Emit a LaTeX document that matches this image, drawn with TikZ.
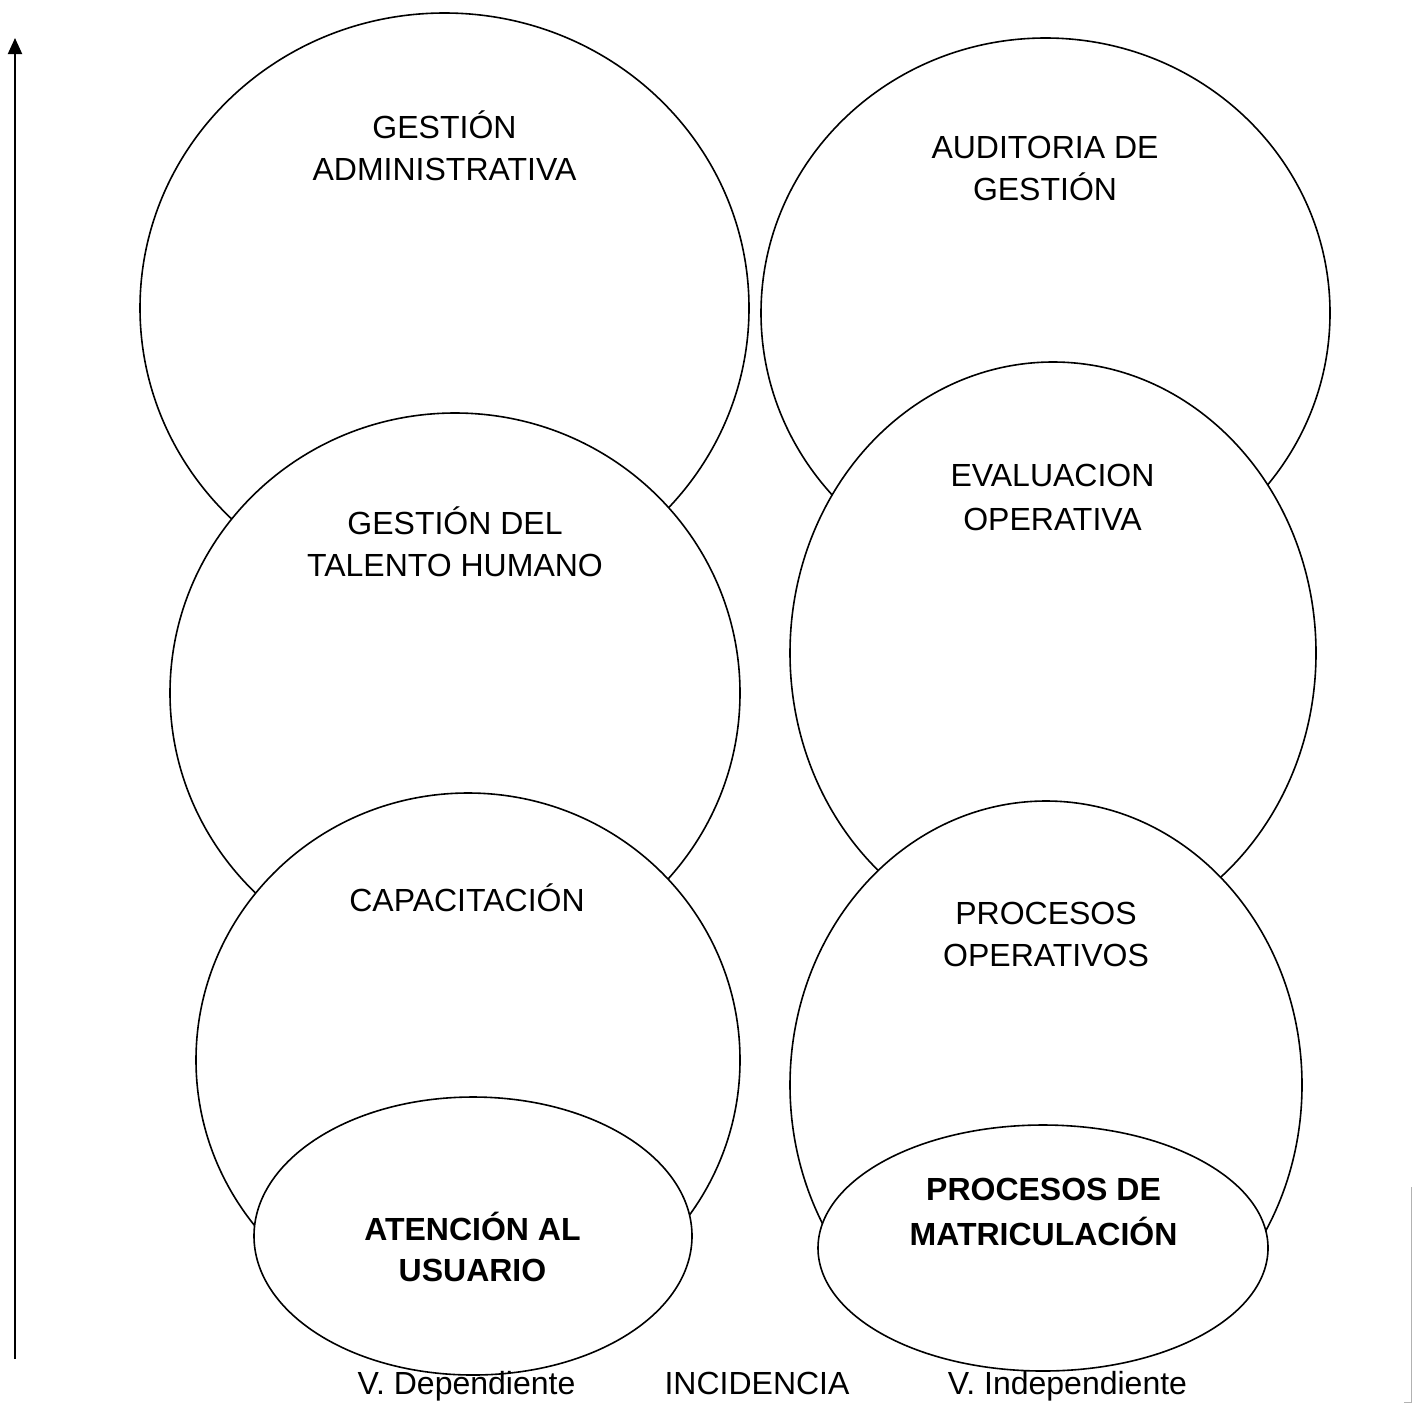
\documentclass[tikz,border=0pt]{standalone}
\usepackage{fontspec}
\setmainfont{Liberation Sans}
\usetikzlibrary{arrows.meta}
\begin{document}
\begin{tikzpicture}[x=0.5pt,y=-0.5pt,
  blob/.style={draw=black, fill=white, line width=0.8pt},
  lbl/.style={font=\fontsize{16}{21}\selectfont, align=center, inner sep=0pt},
  blbl/.style={lbl, font=\fontsize{16}{22.5}\selectfont\bfseries},
  axis/.style={line width=1pt, -{Triangle[length=8pt,width=7pt]}}]
\useasboundingbox (0,0) rectangle (1412,1403);
% left column
\draw[blob] (444.5,308) ellipse [x radius=152.25pt, y radius=147.5pt];
\draw[blob] (455,693) ellipse [x radius=142.5pt, y radius=140pt];
\draw[blob] (468,1060) ellipse [x radius=136pt, y radius=133.5pt];
\draw[blob] (473,1236) ellipse [x radius=109.5pt, y radius=69.5pt];
% right column
\draw[blob] (1045.5,313) ellipse [x radius=142.25pt, y radius=137.5pt];
\draw[blob] (1053,653) ellipse [x radius=131.5pt, y radius=145.5pt];
\draw[blob] (1046,1085) ellipse [x radius=128pt, y radius=142pt];
\draw[blob] (1043,1248) ellipse [x radius=112.5pt, y radius=61.5pt];
% labels
\node[lbl] (ga) at (444.5,146) {GESTIÓN\\ADMINISTRATIVA};
\node[lbl] (ag) at (1045,168) {AUDITORIA DE\\GESTIÓN};
\node[lbl] (th) at (455,542) {GESTIÓN DEL\\TALENTO HUMANO};
\node[lbl, font=\fontsize{16}{22}\selectfont] (eo) at (1052.5,497) {EVALUACION\\OPERATIVA};
\node[lbl] (ca) at (467,898) {CAPACITACIÓN};
\node[lbl] (po) at (1046,934.5) {PROCESOS\\OPERATIVOS};
\node[blbl, font=\fontsize{16}{20.5}\selectfont\bfseries] (au) at (472.5,1246.5) {ATENCIÓN AL\\USUARIO};
\node[blbl] (pm) at (1043.5,1211.5) {PROCESOS DE\\MATRICULACIÓN};
% bottom captions
\node[lbl, anchor=base] (vd) at (466.5,1394) {V. Dependiente};
\node[lbl, anchor=base] (inc) at (757,1394) {INCIDENCIA};
\node[lbl, anchor=base] (vi) at (1067.5,1394) {V. Independiente};
% vertical axis
\coordinate (abot) at (15,1359);
\coordinate (atop) at (15,38);
\draw[axis] (abot) -- (atop);
% page edge mark
\coordinate (e1) at (1411,1187);
\coordinate (e2) at (1411,1402);
\coordinate (e3) at (1404,1402);
\draw[gray!60, line width=0.5pt] (e1) -- (e2) -- (e3);
\end{tikzpicture}
\end{document}
